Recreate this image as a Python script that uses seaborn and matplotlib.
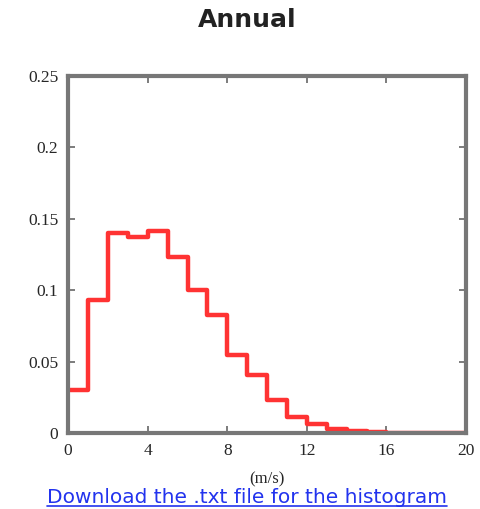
import numpy as np
import pandas as pd
import matplotlib
matplotlib.use('Agg')
import matplotlib.pyplot as plt
import seaborn as sns
from matplotlib.lines import Line2D

# wind speed histogram, 1 m/s bins
bin_left = list(range(0, 20))
freq = [0.030, 0.093, 0.140, 0.1375, 0.1415, 0.1235, 0.100, 0.083, 0.0545, 0.0405,
        0.023, 0.0115, 0.0065, 0.003, 0.0015, 0.0007, 0.0003, 0.0001, 0.0, 0.0]
xticks = [0, 4, 8, 12, 16, 20]
yticks = [0, 0.05, 0.1, 0.15, 0.2, 0.25]
ytick_labels = ['0', '0.05', '0.1', '0.15', '0.2', '0.25']

df = pd.DataFrame({'speed': np.array(bin_left) + 0.5, 'freq': freq})

sns.set_style('white')
fig = plt.figure(figsize=(4.8, 5.09), dpi=100)
ax = fig.add_axes([0.142, 0.149, 0.829, 0.702])

sns.histplot(data=df, x='speed', weights='freq', bins=range(0, 21),
             element='step', fill=False, color='#ff3333', linewidth=3.2, ax=ax)

ax.set_xlim(0, 20)
ax.set_ylim(0, 0.25)
ax.set_xticks(xticks)
ax.set_xticklabels([str(t) for t in xticks], family='Liberation Serif', fontsize=12.5)
ax.set_yticks(yticks)
ax.set_yticklabels(ytick_labels, family='Liberation Serif', fontsize=12.5)
ax.tick_params(direction='in', length=5, width=1.2, color='#666666',
               top=True, right=True, bottom=True, left=True, pad=7)
for s in ax.spines.values():
    s.set_linewidth(3)
    s.set_color('#777777')
ax.set_ylabel('')
ax.set_xlabel('(m/s)', family='Liberation Serif', fontsize=12, labelpad=9)

fig.text(0.515, 0.96, 'Annual', ha='center', va='center', fontsize=18,
         fontweight='heavy', family='DejaVu Sans', color='#222222')

link = fig.text(0.515, 0.023, 'Download the .txt file for the histogram',
                ha='center', va='center', fontsize=14.5, color='#2233ee',
                family='DejaVu Sans')
fig.canvas.draw()
bb = link.get_window_extent().transformed(fig.transFigure.inverted())
fig.add_artist(Line2D([bb.x0, bb.x1], [bb.y0 + 0.002, bb.y0 + 0.002],
                      color='#2233ee', linewidth=1.2, transform=fig.transFigure))

fig.savefig('out.png', dpi=100)
